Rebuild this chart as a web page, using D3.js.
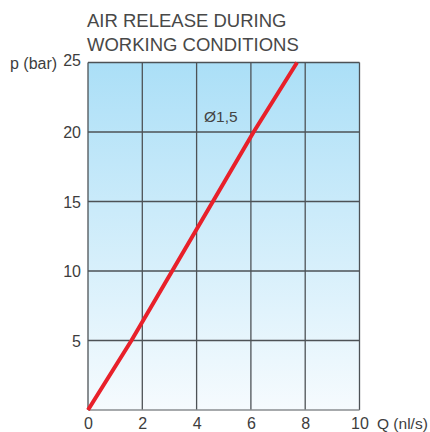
<!DOCTYPE html>
<html><head><meta charset="utf-8">
<script src="https://cdn.jsdelivr.net/npm/d3@7"></script>
<style>body{margin:0;background:#fff}svg{display:block}text{font-family:"Liberation Sans",Arial,sans-serif}</style>
</head><body><svg id="c" width="430" height="432"></svg>
<script>
const titleLines = ["AIR RELEASE DURING", "WORKING CONDITIONS"];
const xTicks = [0, 2, 4, 6, 8, 10];
const yTicks = [5, 10, 15, 20, 25];
const flowQ = [0, 1.6, 3.1, 4.6, 6.1, 7.7];
const pressureP = [0, 5, 10, 15, 20, 25];
const seriesLabel = "Ø1,5";
const xAxisLabel = "Q (nl/s)";
const yAxisLabel = "p (bar)";

const svg = d3.select("#c");
const L = 88, R = 359.5, T = 62.5, B = 410;
const x = d3.scaleLinear().domain([0, 10]).range([L, R]);
const y = d3.scaleLinear().domain([0, 25]).range([B, T]);

const defs = svg.append("defs");
const g = defs.append("linearGradient").attr("id", "bg").attr("x1", 0).attr("y1", 0).attr("x2", 0).attr("y2", 1);
g.append("stop").attr("offset", "0%").attr("stop-color", "#abdff7");
g.append("stop").attr("offset", "100%").attr("stop-color", "#f6fbfe");

svg.append("rect").attr("x", L).attr("y", T).attr("width", R - L).attr("height", B - T).attr("fill", "url(#bg)");

const grid = svg.append("g").attr("stroke", "#4d5256").attr("stroke-width", 1.3);
xTicks.forEach(t => grid.append("line").attr("x1", x(t)).attr("x2", x(t)).attr("y1", T).attr("y2", B));
yTicks.forEach(t => grid.append("line").attr("x1", L).attr("x2", R).attr("y1", y(t)).attr("y2", y(t)));
svg.append("line").attr("x1", L).attr("x2", R).attr("y1", B).attr("y2", B).attr("stroke", "#8a8e91").attr("stroke-width", 1.5);

const tc = "#3d3d3d";
const yAxis = svg.append("g").attr("transform", `translate(${L},0)`)
  .call(d3.axisLeft(y).tickValues(yTicks).tickSize(0).tickPadding(7));
yAxis.select(".domain").remove();
yAxis.selectAll("text").attr("font-size", 16).attr("fill", tc).attr("dy", "0.36em")
  .attr("font-family", "Liberation Sans, Arial, sans-serif");
yAxis.selectAll("text").filter(d => d === 25).attr("dy", "0.2em");

const xAxis = svg.append("g").attr("transform", `translate(0,${B})`)
  .call(d3.axisBottom(x).tickValues(xTicks).tickSize(0).tickPadding(6));
xAxis.select(".domain").remove();
xAxis.selectAll("text").attr("font-size", 16).attr("fill", tc).attr("dy", "0.8em")
  .attr("font-family", "Liberation Sans, Arial, sans-serif");

svg.append("text").attr("x", 377).attr("y", 428.8).attr("font-size", 15.5).attr("fill", tc).text(xAxisLabel);
svg.append("text").attr("x", 10).attr("y", 69).attr("font-size", 16).attr("fill", tc).text(yAxisLabel);

titleLines.forEach((t, i) => svg.append("text").attr("x", 87).attr("y", 27 + i * 23.5)
  .attr("font-size", 18.5).attr("fill", "#484848").text(t));

svg.append("text").attr("x", 204).attr("y", 122).attr("font-size", 15.5).attr("fill", "#444").text(seriesLabel);

const pts = flowQ.map((q, i) => [q, pressureP[i]]);
svg.append("path").datum(pts)
  .attr("d", d3.line().x(d => x(d[0])).y(d => y(d[1])))
  .attr("fill", "none").attr("stroke", "#e8202a").attr("stroke-width", 4);
</script></body></html>
